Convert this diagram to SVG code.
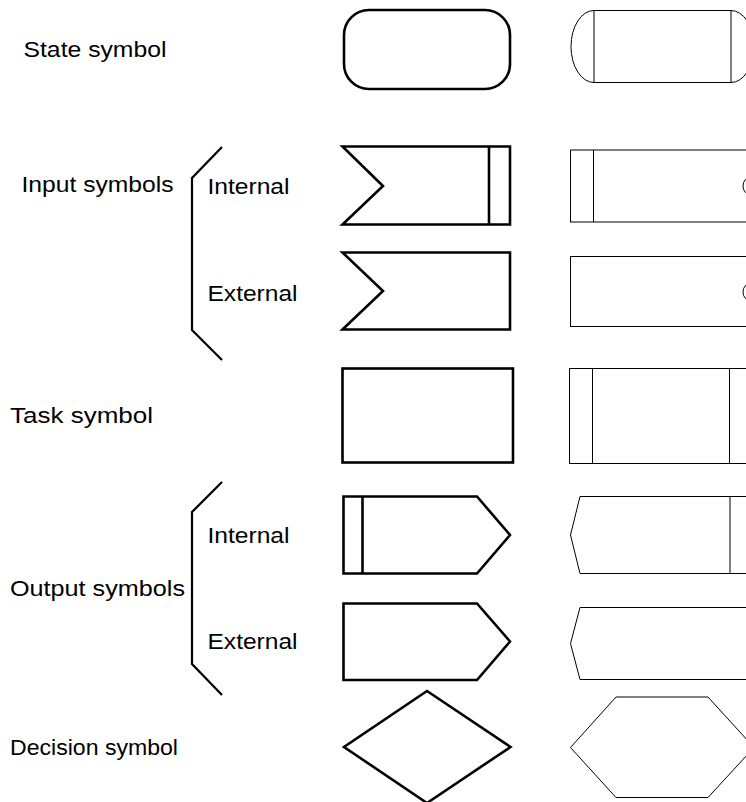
<svg xmlns="http://www.w3.org/2000/svg" width="746" height="802" viewBox="0 0 746 802">
<style>
.lbl{font-family:"Liberation Sans",Arial,sans-serif;font-size:22px;fill:#000}
.thick{fill:#fff;stroke:#000;stroke-width:2.6;stroke-linejoin:miter}
.thin{fill:#fff;stroke:#000;stroke-width:1}
.ln{fill:none;stroke:#000;stroke-width:1}
.br{fill:none;stroke:#000;stroke-width:2.2}
</style>
<rect width="746" height="802" fill="#fff"/>
<g id="labels">
<text class="lbl" x="23.5" y="57" textLength="143" lengthAdjust="spacingAndGlyphs">State symbol</text>
<text class="lbl" x="21.5" y="192" textLength="152" lengthAdjust="spacingAndGlyphs">Input symbols</text>
<text class="lbl" x="207.5" y="194" textLength="82" lengthAdjust="spacingAndGlyphs">Internal</text>
<text class="lbl" x="207.5" y="301" textLength="90" lengthAdjust="spacingAndGlyphs">External</text>
<text class="lbl" x="10" y="423" textLength="143" lengthAdjust="spacingAndGlyphs">Task symbol</text>
<text class="lbl" x="207.5" y="543" textLength="82" lengthAdjust="spacingAndGlyphs">Internal</text>
<text class="lbl" x="10" y="596" textLength="175" lengthAdjust="spacingAndGlyphs">Output symbols</text>
<text class="lbl" x="207.5" y="649" textLength="90" lengthAdjust="spacingAndGlyphs">External</text>
<text class="lbl" x="10" y="755" textLength="168" lengthAdjust="spacingAndGlyphs">Decision symbol</text>
</g>
<g id="brackets">
<polyline class="br" points="222,147 192,178 192,330 222,360"/>
<polyline class="br" points="222,482 192,512 192,664 222,695"/>
</g>
<g id="state-sdl">
<rect class="thick" x="344" y="10" width="166" height="79" rx="25" ry="25"/>
</g>
<g id="state-alt">
<rect class="thin" x="594" y="10.5" width="137" height="72"/>
<path class="ln" d="M594,10.5 A23,36 0 0 0 594,82.5"/>
<path class="ln" d="M731,10.5 A23,36 0 0 1 731,82.5"/>
</g>
<g id="input-internal">
<polygon class="thick" points="342.5,146.5 510,146.5 510,224.5 342.5,224.5 383,186"/>
<line class="ln" x1="489" y1="146.5" x2="489" y2="224.5" style="stroke-width:2.6"/>
</g>
<g id="input-internal-alt">
<rect class="thin" x="570.5" y="150" width="200" height="72"/>
<line class="ln" x1="593.5" y1="150" x2="593.5" y2="222"/>
<ellipse class="ln" cx="751" cy="186" rx="8" ry="9"/>
</g>
<g id="input-external">
<polygon class="thick" points="342.5,252.5 510,252.5 510,329.5 342.5,329.5 383,291"/>
</g>
<g id="input-external-alt">
<rect class="thin" x="570.5" y="256.5" width="200" height="70"/>
<ellipse class="ln" cx="751" cy="292" rx="8" ry="9"/>
</g>
<g id="task">
<rect class="thick" x="342.5" y="368.5" width="170.5" height="94"/>
</g>
<g id="task-alt">
<rect class="thin" x="569.5" y="368.5" width="200" height="95"/>
<line class="ln" x1="592.5" y1="368.5" x2="592.5" y2="463.5"/>
<line class="ln" x1="729.5" y1="368.5" x2="729.5" y2="463.5"/>
</g>
<g id="output-internal">
<polygon class="thick" points="343.5,496.5 477,496.5 510,535 477,573.5 343.5,573.5"/>
<line class="ln" x1="362.5" y1="496.5" x2="362.5" y2="573.5" style="stroke-width:2.6"/>
</g>
<g id="output-internal-alt">
<polygon class="thin" points="580,496.5 770,496.5 770,573.5 580,573.5 570.5,535"/>
<line class="ln" x1="730" y1="496.5" x2="730" y2="573.5"/>
</g>
<g id="output-external">
<polygon class="thick" points="343.5,603.5 477,603.5 510,641.5 477,680 343.5,680"/>
</g>
<g id="output-external-alt">
<polygon class="thin" points="580,607.5 770,607.5 770,679.5 580,679.5 570.5,643.5"/>
</g>
<g id="decision">
<polygon class="thick" points="427,691 510.5,747 427,803 344,747"/>
</g>
<g id="decision-alt">
<polygon class="thin" points="616,697 708,697 754,747.5 708,797.5 616,797.5 570.5,747.5"/>
</g>
</svg>
